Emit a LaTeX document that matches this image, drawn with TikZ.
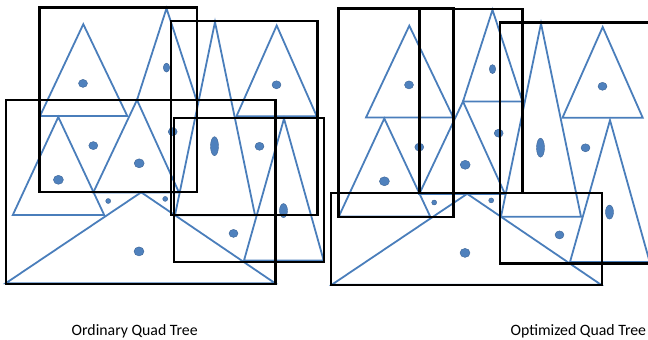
\documentclass[tikz,border=0pt]{standalone}
\usepackage{fontspec}
\setmainfont{Carlito}
\definecolor{triblue}{RGB}{74,126,187}
\definecolor{dotblue}{RGB}{79,129,189}
\definecolor{dotedge}{RGB}{60,100,150}
\begin{document}
\begin{tikzpicture}[x=1pt,y=-1pt,
    tri/.style={draw=triblue,line width=1.8pt,line join=miter},
    spot/.style={fill=dotblue,draw=dotedge,line width=0.4pt},
    cell/.style={draw=black,line width=2.4pt},
    caption/.style={anchor=base,font=\fontsize{15.8}{18}\selectfont}]
        \useasboundingbox (0,0) rectangle (648,340);
        \clip (0,0) rectangle (648,340);
        % same objects in both panels
        \foreach \dx/\dy in {0/0,326/1.5}{
          \begin{scope}[shift={(\dx,\dy)}]
            \draw[tri] (83.3,24.2) -- (40,116) -- (127.3,116) -- cycle;
            \draw[tri] (166.5,8.4) -- (137,100) -- (196.5,100) -- cycle;
            \draw[tri] (58.3,117) -- (12.8,215) -- (104.2,215) -- cycle;
            \draw[tri] (137,100) -- (93.3,192.5) -- (179,192.5) -- cycle;
            \draw[tri] (141.2,192.3) -- (5.8,283.2) -- (275,283.2) -- cycle;
            \draw[tri] (215,22) -- (175,215.2) -- (255,215.2) -- cycle;
            \draw[tri] (276.7,25.5) -- (236.5,116.2) -- (316.7,116.2) -- cycle;
            \draw[tri] (284,118.7) -- (244,260.5) -- (323.7,260.5) -- cycle;
            % points
            \path[spot] (83,83.4) ellipse [x radius=4.5pt,y radius=4pt];
            \path[spot] (166.5,67.6) ellipse [x radius=3.2pt,y radius=4.5pt];
            \path[spot] (58.4,179.8) ellipse [x radius=5pt,y radius=4.5pt];
            \path[spot] (93.3,145.6) ellipse [x radius=4.5pt,y radius=4pt];
            \path[spot] (172.7,131.7) ellipse [x radius=4.5pt,y radius=4pt];
            \path[spot] (139.2,163.3) ellipse [x radius=5pt,y radius=4.5pt];
            \path[spot] (214.5,146.2) ellipse [x radius=4pt,y radius=9.5pt];
            \path[spot] (259.5,146.3) ellipse [x radius=4.5pt,y radius=4pt];
            \path[spot] (276.5,84.8) ellipse [x radius=4.5pt,y radius=4pt];
            \path[spot] (283.5,210.6) ellipse [x radius=4pt,y radius=7pt];
            \path[spot] (233.5,233.4) ellipse [x radius=4.5pt,y radius=4pt];
            \path[spot] (139,251.4) ellipse [x radius=5pt,y radius=4.5pt];
            \path[spot] (108.2,201) circle [radius=2.5pt];
            \path[spot] (165.2,198.9) circle [radius=2.5pt];
          \end{scope}
        }
        % ordinary quad tree cells
        \draw[cell] (39.3,7.3) rectangle (196.7,191.7);
        \draw[cell] (170.7,20.7) rectangle (317.3,215);
        \draw[cell] (5.7,100) rectangle (275.3,283.7);
        \draw[cell] (174,117.7) rectangle (324,262);
        % optimized quad tree cells
        \draw[cell] (338.3,8.3) rectangle (453.3,216.7);
        \draw[cell] (419.3,9) rectangle (522.3,192.7);
        \draw[cell] (500,22.3) rectangle (660,263.3);
        \draw[cell] (331,192.7) rectangle (601.7,285);
        \node[caption] (ordinary) at (134.7,335) {Ordinary Quad Tree};
        \node[caption] (optimized) at (578.3,335) {Optimized Quad Tree};
      \end{tikzpicture}
\end{document}
